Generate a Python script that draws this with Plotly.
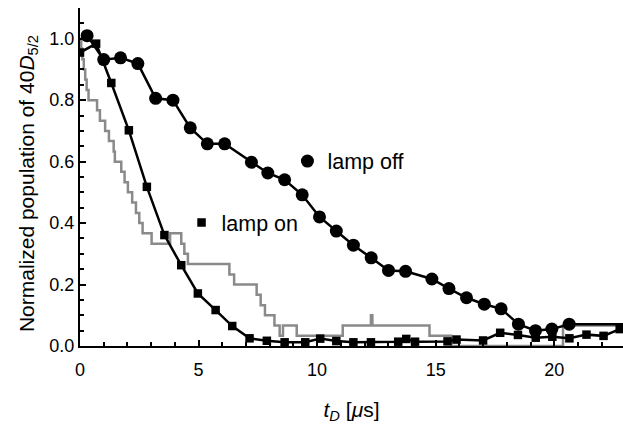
import plotly.graph_objects as go

# Population of the 40D5/2 state vs delay time t_D (µs)
t_off = [0.30, 1.00, 1.71, 2.44, 3.19, 3.92, 4.65, 5.37, 6.10, 7.23, 7.92, 8.63, 9.37,
         10.10, 10.81, 11.53, 12.28, 13.01, 13.73, 14.84, 15.56, 16.30, 17.05, 17.76,
         18.49, 19.21, 19.90, 20.63, 23.40]
pop_off = [1.010, 0.932, 0.938, 0.919, 0.806, 0.800, 0.710, 0.658, 0.658, 0.598, 0.563,
           0.541, 0.492, 0.420, 0.374, 0.328, 0.287, 0.246, 0.243, 0.218, 0.187, 0.157,
           0.136, 0.121, 0.071, 0.050, 0.055, 0.071, 0.071]

t_on = [0.00, 0.68, 1.32, 2.06, 2.82, 3.56, 4.27, 4.97, 5.72, 6.42, 7.15, 7.88, 8.63,
        9.50, 10.13, 10.81, 11.53, 12.27, 13.42, 13.76, 14.13, 15.50, 15.88, 17.00,
        17.72, 18.47, 19.22, 19.92, 20.64, 21.36, 22.08, 22.76]
pop_on = [0.955, 0.984, 0.856, 0.702, 0.518, 0.361, 0.263, 0.171, 0.117, 0.065, 0.025,
          0.017, 0.012, 0.012, 0.024, 0.016, 0.012, 0.012, 0.014, 0.023, 0.014, 0.015,
          0.021, 0.018, 0.043, 0.036, 0.027, 0.030, 0.025, 0.037, 0.033, 0.055]

# Simulated decay (step curve)
t_sim = [0.00, 0.05, 0.10, 0.16, 0.22, 0.28, 0.36, 0.72, 0.84, 1.06, 1.22, 1.42, 1.47,
         1.74, 1.88, 2.02, 2.20, 2.36, 2.50, 2.64, 3.02, 3.80, 4.27, 4.40, 4.55, 6.30,
         6.50, 7.45, 7.62, 7.80, 8.20, 8.42, 8.56, 9.14, 11.08, 12.27, 12.33, 14.74,
         15.66, 20.37, 23.00]
pop_sim = [1.000, 0.967, 0.933, 0.900, 0.867, 0.833, 0.800, 0.767, 0.733, 0.700, 0.667,
           0.633, 0.600, 0.567, 0.533, 0.500, 0.467, 0.433, 0.400, 0.367, 0.333, 0.367,
           0.333, 0.300, 0.267, 0.233, 0.200, 0.167, 0.133, 0.100, 0.067, 0.033, 0.067,
           0.033, 0.067, 0.100, 0.067, 0.033, 0.000, 0.067, 0.067]

x_ticks = [0, 5, 10, 15, 20]
y_ticks = [0.0, 0.2, 0.4, 0.6, 0.8, 1.0]

FONT = "Liberation Sans, Arial, sans-serif"

fig = go.Figure()

fig.add_trace(go.Scatter(x=t_sim, y=pop_sim, mode="lines", line_shape="hv",
                         line=dict(color="#8a8a8a", width=2.5), showlegend=False))

fig.add_trace(go.Scatter(x=t_on, y=pop_on, mode="lines",
                         line=dict(color="black", width=2.5), showlegend=False))
fig.add_trace(go.Scatter(x=t_on, y=pop_on, mode="markers", name="lamp on",
                         marker=dict(symbol="square", size=8.5, color="black"),
                         legend="legend2"))

fig.add_trace(go.Scatter(x=t_off, y=pop_off, mode="lines",
                         line=dict(color="black", width=2.5), showlegend=False))
fig.add_trace(go.Scatter(x=t_off, y=pop_off, mode="markers", name="lamp off",
                         marker=dict(symbol="circle", size=13, color="black"),
                         legend="legend"))

axis_common = dict(
    showline=True, linecolor="black", linewidth=2, showgrid=False, zeroline=False,
    ticks="inside", tickcolor="black", tickwidth=1.5, ticklen=6,
    tickfont=dict(family=FONT, size=18, color="black"),
)

fig.update_layout(
    width=623, height=424,
    margin=dict(l=80, r=0, t=8, b=78),
    paper_bgcolor="white", plot_bgcolor="white",
    font=dict(family=FONT, color="black"),
    xaxis=dict(
        range=[0, 22.9], tickvals=x_ticks, ticktext=[str(v) for v in x_ticks],
        minor=dict(dtick=1, tick0=0, ticks="inside", ticklen=4, tickcolor="black", tickwidth=1.5),
        ticklabelstandoff=6,
        title=dict(text="<i>t</i><sub><i>D</i></sub> [<i>μ</i>s]",
                   font=dict(family=FONT, size=21, color="black"), standoff=24),
        **axis_common,
    ),
    yaxis=dict(
        range=[0, 1.1], tickvals=y_ticks, ticktext=[f"{v:.1f}" for v in y_ticks],
        minor=dict(dtick=0.05, tick0=0, ticks="inside", ticklen=4, tickcolor="black", tickwidth=1.5),
        **axis_common,
    ),
    annotations=[dict(
        text="Normalized population of 40<i>D</i><sub>5/2</sub>",
        xref="paper", yref="paper", x=0, y=0.479, xshift=-52,
        xanchor="center", yanchor="middle", textangle=-90, showarrow=False,
        font=dict(family=FONT, size=21, color="black"),
    )],
    legend=dict(x=0.382, y=0.547, xanchor="left", yanchor="middle",
                bgcolor="rgba(0,0,0,0)", font=dict(family=FONT, size=21.5, color="black"),
                itemwidth=30),
    legend2=dict(x=0.187, y=0.365, xanchor="left", yanchor="middle",
                 bgcolor="rgba(0,0,0,0)", font=dict(family=FONT, size=21.5, color="black"),
                 itemwidth=30),
)

fig.write_html("out.html")
